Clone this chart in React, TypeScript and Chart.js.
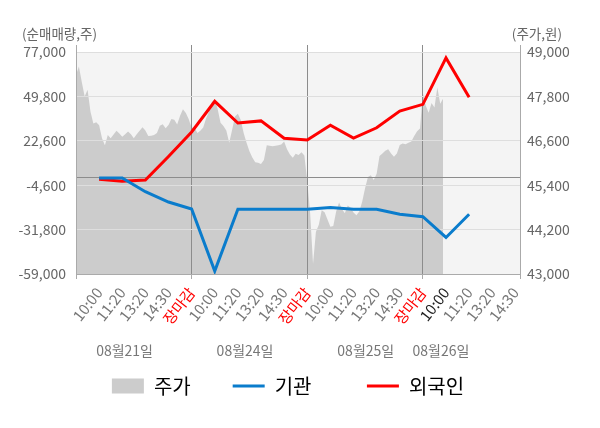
import React, { useEffect, useRef } from 'react';
import { Chart, registerables } from 'chart.js';

const FONT = '"Noto Sans CJK KR", "Noto Sans", sans-serif';

// x axis: each trading day spans 5 slots (10:00, 11:20, 13:20, 14:30, 장마감)
const sessionLabels = ['10:00', '11:20', '13:20', '14:30', '장마감'];
const dayLabels = ['08월21일', '08월24일', '08월25일', '08월26일'];
const dayLabelSlots = [2.1, 7.31, 12.53, 15.78];

const leftTicks = [-59000, -31800, -4600, 22600, 49800, 77000];
const rightTicks = [43000, 44200, 45400, 46600, 47800, 49000];

// net buying volume, one value per label slot (1..17)
const institution = [
  -200, -200, -8600, -14900, -19200,
  -57200, -19350, -19350, -19350, -19350,
  -18200, -19300, -19350, -22400, -23900,
  -36600, -22400,
];
const foreign = [
  -1000, -2200, -1400, 13000, 28000,
  46800, 33500, 34800, 24200, 23100,
  32200, 24300, 30600, 40850, 44950,
  73400, 49250,
];

// price, sampled 8 times per slot through each day
const priceDay1 = [
  48380, 48610, 48190, 47800, 47980, 47390, 47070, 47100, 47020, 46670,
  46480, 46760, 46670, 46770, 46870, 46800, 46710, 46780, 46850, 46780,
  46670, 46780, 46870, 46970, 46880, 46730, 46740, 46760, 46810, 47010,
  47050, 46940, 47030, 47190, 47170, 47040, 47280, 47450, 47350, 47180,
];
const priceDay2 = [
  46950, 46960, 46810, 46870, 46960, 47200, 47390, 47650, 47720, 47460,
  47090, 47000, 46880, 46550, 46890, 47260, 47330, 47160, 46810, 46550,
  46320, 46150, 46020, 46010, 45970, 46080, 46480, 46470, 46450, 46470,
  46480, 46500, 46580, 46370, 46230, 46140, 46250, 46220, 46290, 46200,
];
const priceDay3 = [
  45500, 44650, 43280, 44140, 44330, 44720, 44670, 44470, 44280, 44300,
  44690, 44930, 44760, 44640, 44850, 44790, 44660, 44590, 44690, 44950,
  45320, 45620, 45670, 45540, 45710, 46190, 46260, 46330, 46370, 46260,
  46170, 46260, 46490, 46530, 46510, 46550, 46580, 46730, 46860, 46930,
];
const priceDay4 = [47900, 47550, 47360, 47620, 47500, 48040, 47600, 47740];

const SLOTS_PER_DAY = 5;
const STEPS_PER_SLOT = 8;
const X_MAX = 19.2;
const HIGHLIGHT_SLOT = 16;
// empty room above the top tick, where only the frame lines continue
const LEFT_TOP_ROOM = 4300;
const RIGHT_TOP_ROOM = 190;

// shaded plot area, drawn before the price fill and the grid
const plotBackground = {
  id: 'plotBackground',
  beforeDraw(chart: any) {
    const { ctx, chartArea, scales } = chart;
    const top = scales.y.getPixelForValue(leftTicks[leftTicks.length - 1]);
    ctx.save();
    ctx.fillStyle = '#f4f4f4';
    ctx.fillRect(chartArea.left, top, chartArea.right - chartArea.left, chartArea.bottom - top);
    ctx.restore();
  },
};

const axisTitles = {
  id: 'axisTitles',
  afterDraw(chart: any) {
    const { ctx, chartArea } = chart;
    ctx.save();
    ctx.font = `13.5px ${FONT}`;
    ctx.fillStyle = '#666';
    ctx.textBaseline = 'middle';
    ctx.textAlign = 'left';
    ctx.fillText('(순매매량,주)', chartArea.left - 54, chartArea.top - 11);
    ctx.textAlign = 'right';
    ctx.fillText('(주가,원)', chartArea.right + 42, chartArea.top - 11);
    ctx.restore();
  },
};

// registered first so the background goes down before the filler paints the price area
Chart.register(plotBackground);
Chart.register(...registerables);

const App: React.FC = () => {
  const canvasRef = useRef<HTMLCanvasElement>(null);
  const chartRef = useRef<Chart | null>(null);

  useEffect(() => {
    document.body.style.margin = '0';
    if (!canvasRef.current) return;
    if (chartRef.current) chartRef.current.destroy();

    Chart.defaults.font.family = FONT;

    const priceData = [priceDay1, priceDay2, priceDay3, priceDay4].flatMap((day, d) =>
      day.map((v, i) => ({ x: d * SLOTS_PER_DAY + i / STEPS_PER_SLOT, y: v }))
    );
    const toPoints = (arr: number[]) => arr.map((v, i) => ({ x: i + 1, y: v }));

    const isBoundary = (v: number) => v > 0 && v < X_MAX && v % SLOTS_PER_DAY === 0;

    chartRef.current = new Chart(canvasRef.current, {
      type: 'line',
      data: {
        datasets: [
          {
            label: '주가',
            data: priceData,
            xAxisID: 'x',
            yAxisID: 'y1',
            borderWidth: 0,
            backgroundColor: '#cccccc',
            fill: 'start',
            pointRadius: 0,
            order: 3,
          },
          {
            label: '기관',
            data: toPoints(institution),
            xAxisID: 'x',
            yAxisID: 'y',
            borderColor: '#0a7ccc',
            borderWidth: 3,
            pointRadius: 0,
            fill: false,
            order: 1,
          },
          {
            label: '외국인',
            data: toPoints(foreign),
            xAxisID: 'x',
            yAxisID: 'y',
            borderColor: '#ff0000',
            borderWidth: 3,
            pointRadius: 0,
            fill: false,
            order: 2,
          },
        ],
      },
      options: {
        responsive: false,
        animation: false,
        locale: 'en-US',
        layout: { padding: { top: 45, right: 24, bottom: 0, left: 0 } },
        plugins: {
          tooltip: { enabled: false },
          filler: { drawTime: 'beforeDraw' },
          legend: {
            position: 'bottom',
            labels: {
              usePointStyle: true,
              pointStyleWidth: 32,
              boxHeight: 15,
              padding: 42,
              color: '#333',
              font: { size: 20 },
              generateLabels: (chart: any) =>
                chart.data.datasets.map((ds: any, i: number) => ({
                  // the middle entry carries extra trailing room, as in the original layout
                  text: i === 1 ? `${ds.label}   ` : ds.label,
                  fillStyle: i === 0 ? '#cccccc' : ds.borderColor,
                  strokeStyle: i === 0 ? '#cccccc' : ds.borderColor,
                  lineWidth: i === 0 ? 0 : 3,
                  pointStyle: i === 0 ? 'rect' : 'line',
                  hidden: false,
                  datasetIndex: i,
                })),
            },
          },
        },
        scales: {
          x: {
            type: 'linear',
            position: 'bottom',
            weight: 0,
            min: 0,
            max: X_MAX,
            afterBuildTicks: (s: any) => {
              const t = [];
              for (let i = 0; i <= sessionLabels.length * 4 - 1; i++) t.push({ value: i });
              t.push({ value: X_MAX });
              s.ticks = t;
            },
            afterFit: (s: any) => { s.height = 60; },
            grid: {
              color: (c: any) => (isBoundary(c.tick?.value) ? '#8c8c8c' : 'rgba(0,0,0,0)'),
              tickColor: (c: any) => {
                const v = c.tick?.value;
                return v === 0 || v === X_MAX || isBoundary(v) ? '#aaaaaa' : 'rgba(0,0,0,0)';
              },
              tickLength: 5,
            },
            border: { color: '#aaaaaa' },
            ticks: {
              autoSkip: false,
              minRotation: 52,
              maxRotation: 52,
              padding: 5,
              font: { size: 15 },
              color: (c: any) => {
                const v = c.tick?.value;
                if (isBoundary(v)) return '#ff0000';
                if (v === HIGHLIGHT_SLOT) return '#222222';
                return '#777777';
              },
              callback: (v: any) =>
                Number.isInteger(v) && v > 0 ? sessionLabels[(v - 1) % SLOTS_PER_DAY] : '',
            },
          },
          // date row: sits under the legend box and mirrors its labels upward
          x2: {
            type: 'linear',
            position: 'bottom',
            weight: 2000,
            min: 0,
            max: X_MAX,
            afterBuildTicks: (s: any) => {
              s.ticks = dayLabelSlots.map((v) => ({ value: v }));
            },
            afterFit: (s: any) => { s.height = 22; },
            grid: { display: false },
            border: { display: false },
            ticks: {
              mirror: true,
              autoSkip: false,
              minRotation: 0,
              maxRotation: 0,
              padding: 46.6,
              font: { size: 14 },
              color: '#777777',
              callback: (_v: any, i: number) => dayLabels[i],
            },
          },
          y: {
            type: 'linear',
            position: 'left',
            min: leftTicks[0],
            max: leftTicks[leftTicks.length - 1] + LEFT_TOP_ROOM,
            afterBuildTicks: (s: any) => {
              s.ticks = [...leftTicks, 0].sort((a, b) => a - b).map((v) => ({ value: v }));
            },
            afterFit: (s: any) => { s.width = 76; },
            grid: {
              drawTicks: false,
              color: (c: any) => (c.tick?.value === 0 ? '#8c8c8c' : '#dedede'),
            },
            border: { color: '#aaaaaa' },
            ticks: {
              padding: 10,
              font: { size: 14 },
              color: '#666666',
              callback: (v: any) => (v === 0 ? '' : Number(v).toLocaleString('en-US')),
            },
          },
          y1: {
            type: 'linear',
            position: 'right',
            min: rightTicks[0],
            max: rightTicks[rightTicks.length - 1] + RIGHT_TOP_ROOM,
            afterBuildTicks: (s: any) => {
              s.ticks = rightTicks.map((v) => ({ value: v }));
            },
            afterFit: (s: any) => { s.width = 56; },
            grid: { drawOnChartArea: false, drawTicks: false },
            border: { color: '#aaaaaa' },
            ticks: {
              padding: 7,
              font: { size: 14 },
              color: '#666666',
              callback: (v: any) => Number(v).toLocaleString('en-US'),
            },
          },
        },
      },
      plugins: [axisTitles],
    } as any);

    return () => {
      if (chartRef.current) {
        chartRef.current.destroy();
        chartRef.current = null;
      }
    };
  }, []);

  return (
    <div style={{ width: 600, height: 428 }}>
      <canvas ref={canvasRef} width={600} height={428}></canvas>
    </div>
  );
};

export default App;
